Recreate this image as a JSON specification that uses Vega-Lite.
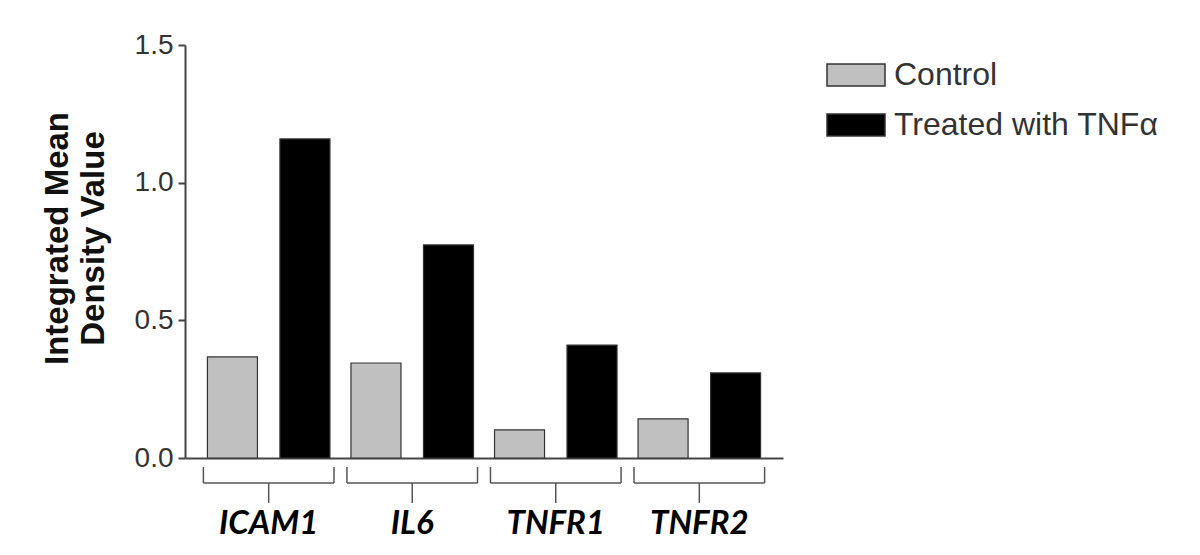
{
  "$schema": "https://vega.github.io/schema/vega-lite/v6.json",
  "width": 598,
  "height": 413,
  "autosize": {"type": "none"},
  "padding": {"left": 185, "top": 45, "right": 417, "bottom": 97},
  "background": "white",
  "config": {"view": {"stroke": null}},
  "datasets": {
    "bars": [
      {"gene": "ICAM1", "condition": "Control", "value": 0.367},
      {"gene": "ICAM1", "condition": "Treated with TNFα", "value": 1.159},
      {"gene": "IL6", "condition": "Control", "value": 0.345},
      {"gene": "IL6", "condition": "Treated with TNFα", "value": 0.774},
      {"gene": "TNFR1", "condition": "Control", "value": 0.102},
      {"gene": "TNFR1", "condition": "Treated with TNFα", "value": 0.41},
      {"gene": "TNFR2", "condition": "Control", "value": 0.142},
      {"gene": "TNFR2", "condition": "Treated with TNFα", "value": 0.309}
    ],
    "genes": [{"gene": "ICAM1"}, {"gene": "IL6"}, {"gene": "TNFR1"}, {"gene": "TNFR2"}]
  },
  "encoding": {
    "x": {
      "field": "gene",
      "type": "nominal",
      "scale": {"domain": ["ICAM1", "IL6", "TNFR1", "TNFR2"], "paddingInner": 0, "paddingOuter": 0.083},
      "axis": {
        "title": null,
        "labelAngle": 0,
        "ticks": false,
        "domainColor": "#444",
        "domainWidth": 2,
        "labelFont": "Lato",
        "labelFontWeight": "bold",
        "labelFontStyle": "italic",
        "labelFontSize": 33,
        "labelColor": "#000",
        "labelPadding": 49
      }
    }
  },
  "layer": [
    {
      "data": {"name": "bars"},
      "mark": {"type": "bar", "stroke": "#333", "strokeWidth": 1.2},
      "encoding": {
        "xOffset": {
          "field": "condition",
          "type": "nominal",
          "scale": {"paddingInner": 0.31, "paddingOuter": 0.145}
        },
        "y": {
          "field": "value",
          "type": "quantitative",
          "scale": {"domain": [0, 1.5], "nice": false},
          "axis": {
            "title": ["Integrated Mean", "Density Value"],
            "titleFont": "Liberation Sans",
            "titleFontSize": 33,
            "titleFontWeight": "bold",
            "titleColor": "#111",
            "titleLineHeight": 36,
            "titlePadding": 24,
            "titleY": 193,
            "values": [0, 0.5, 1, 1.5],
            "format": ".1f",
            "grid": false,
            "labelFont": "Liberation Sans",
            "labelFontSize": 28,
            "labelColor": "#333",
            "labelPadding": 5,
            "tickSize": 7,
            "tickWidth": 2,
            "tickColor": "#444",
            "domainColor": "#444",
            "domainWidth": 2
          }
        },
        "fill": {
          "field": "condition",
          "type": "nominal",
          "scale": {"domain": ["Control", "Treated with TNFα"], "range": ["#c0c0c0", "#000000"]},
          "legend": {
            "title": null,
            "orient": "none",
            "legendX": 641,
            "legendY": 0,
            "symbolType": "M-1,-0.38H1V0.38H-1Z",
            "symbolSize": 3364,
            "symbolStrokeColor": "#333",
            "symbolStrokeWidth": 1.5,
            "labelFont": "Liberation Sans",
            "labelFontSize": 32,
            "labelColor": "#333",
            "labelOffset": 8,
            "rowPadding": 4,
            "labelLimit": 400
          }
        }
      }
    },
    {
      "data": {"name": "genes"},
      "mark": {"type": "bar", "color": "#555", "width": {"band": 0.91}},
      "encoding": {
        "y": {"datum": -0.0885},
        "y2": {"datum": -0.0935}
      }
    },
    {
      "data": {"name": "genes"},
      "mark": {"type": "rule", "color": "#555", "strokeWidth": 1.5},
      "encoding": {
        "x": {"field": "gene", "type": "nominal", "bandPosition": 0.045},
        "y": {"datum": -0.033},
        "y2": {"datum": -0.091}
      }
    },
    {
      "data": {"name": "genes"},
      "mark": {"type": "rule", "color": "#555", "strokeWidth": 1.5},
      "encoding": {
        "x": {"field": "gene", "type": "nominal", "bandPosition": 0.955},
        "y": {"datum": -0.033},
        "y2": {"datum": -0.091}
      }
    },
    {
      "data": {"name": "genes"},
      "mark": {"type": "rule", "color": "#555", "strokeWidth": 1.5},
      "encoding": {
        "x": {"field": "gene", "type": "nominal", "bandPosition": 0.5},
        "y": {"datum": -0.091},
        "y2": {"datum": -0.163}
      }
    }
  ]
}
